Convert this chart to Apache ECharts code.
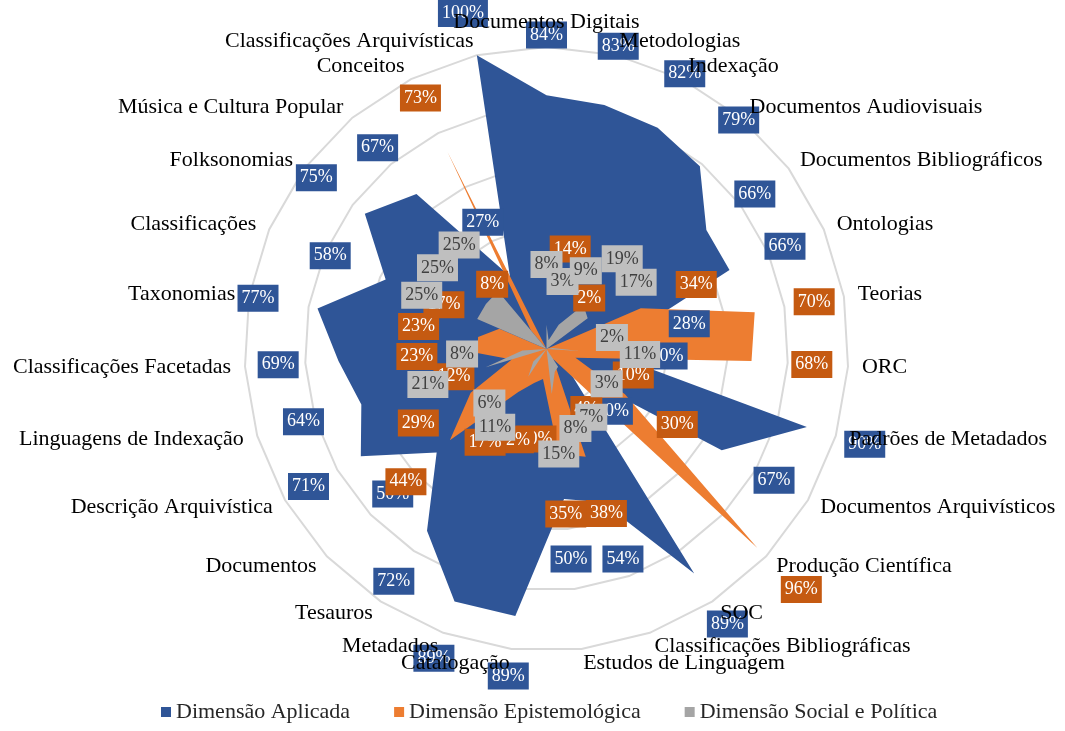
<!DOCTYPE html>
<html>
<head>
<meta charset="utf-8">
<script src="https://cdn.jsdelivr.net/npm/echarts@6/dist/echarts.min.js"></script>
<style>
  html, body { margin: 0; padding: 0; background: #fff; }
  #chart { width: 1065px; height: 731px; }
</style>
</head>
<body>
<div id="chart"></div>
<script>
// categories clockwise from the top, as in the original sheet
const categories = [
  'Documentos Digitais', 'Metodologias', 'Indexação', 'Documentos Audiovisuais',
  'Documentos Bibliográficos', 'Ontologias', 'Teorias', 'ORC', 'Padrões de Metadados',
  'Documentos Arquivísticos', 'Produção Científica', 'SOC', 'Classificações Bibliográficas',
  'Estudos de Linguagem', 'Catalogação', 'Metadados', 'Tesauros', 'Documentos',
  'Descrição Arquivística', 'Linguagens de Indexação', 'Classificações Facetadas',
  'Taxonomias', 'Classificações', 'Folksonomias', 'Música e Cultura Popular',
  'Conceitos', 'Classificações Arquivísticas'
]
const aplicada = [84, 83, 82, 79, 66, 66, 28, 20, 90, 67, 10, 89, 54, 50, 89, 89, 72, 50, 71, 64, 69, 77, 58, 75, 67, 27, 100]
const epistemologica = [0, 14, 0, 2, 0, 34, 70, 68, 10, 30, 96, 4, 38, 35, 10, 12, 17, 44, 29, 12, 23, 23, 17, 0, 8, 73, 0]
const socialPolitica = [8, 3, 9, 19, 17, 0, 2, 11, 0, 3, 0, 7, 8, 15, 0, 0, 11, 6, 0, 21, 8, 0, 25, 25, 25, 0, 0]

const seriesNames = ['Dimensão Aplicada', 'Dimensão Epistemológica', 'Dimensão Social e Política']
const seriesValues = [aplicada, epistemologica, socialPolitica]
const fillColors = ['#2F5597', '#ED7D31', '#A5A5A5']
const boxColors = ['#2F5597', '#C55A11', '#BFBFBF']
const boxText = ['#ffffff', '#ffffff', '#404040']

const FONT = '"Liberation Serif", "DejaVu Serif", serif'
const CENTER = [546.5, 349]
const RADIUS = 302
const LABEL_OFFSET = 20 // labels sit a bit outside their point, in axis units
const POLAR_MAX = 140   // room for the labels beyond 100%

const n = categories.length
// echarts radar goes counter-clockwise, so walk the categories backwards after the first
const order = categories.map((_, i) => (n - i) % n)
const indicator = order.map(i => ({ name: categories[i], max: 100 }))

const chart = echarts.init(document.getElementById('chart'))

const radarSeries = seriesNames.map((name, s) => ({
  type: 'radar',
  name: name,
  radarIndex: 0,
  symbol: 'none',
  lineStyle: { width: 0 },
  itemStyle: { color: fillColors[s] },
  areaStyle: { color: fillColors[s], opacity: 1 },
  data: [{ name: name, value: order.map(i => seriesValues[s][i]) }]
}))

const labelSeries = seriesNames.map((name, s) => ({
  type: 'scatter',
  name: 'rotulos ' + name,
  coordinateSystem: 'polar',
  silent: true,
  symbolSize: 1,
  itemStyle: { color: 'rgba(0,0,0,0)', opacity: 1 },
  data: seriesValues[s]
    .map((v, k) => [v + LABEL_OFFSET, k, v])
    .filter(d => d[2] > 0),
  label: {
    show: true,
    position: 'inside',
    formatter: p => p.value[2] + '%',
    backgroundColor: boxColors[s],
    color: boxText[s],
    fontFamily: FONT,
    fontSize: 18,
    lineHeight: 20,
    padding: [4, 4, 3, 4]
  },
  labelLayout: p => ({ dy: p.labelRect.y < 0 ? -p.labelRect.y : 0 })
}))

chart.setOption({
  animation: false,
  backgroundColor: '#ffffff',
  legend: {
    data: seriesNames,
    bottom: 3,
    left: 156,
    icon: 'rect',
    itemWidth: 10,
    itemHeight: 10,
    itemGap: 44,
    textStyle: { fontFamily: FONT, fontSize: 22, color: '#262626' }
  },
  radar: [
    {
      center: CENTER,
      radius: RADIUS,
      startAngle: 90,
      shape: 'polygon',
      splitNumber: 5,
      indicator: indicator,
      axisName: { show: false },
      axisLine: { show: false },
      splitArea: { show: false },
      splitLine: { lineStyle: { color: '#D9D9D9', width: 2 } },
      z: 0
    },
    {
      // second copy only for the category names, drawn above everything
      center: CENTER,
      radius: RADIUS,
      startAngle: 90,
      shape: 'polygon',
      splitNumber: 5,
      indicator: indicator,
      nameGap: 14,
      axisName: { color: '#000', fontFamily: FONT, fontSize: 22 },
      axisLine: { show: false },
      splitArea: { show: false },
      splitLine: { show: false },
      z: 10
    }
  ],
  polar: { center: CENTER, radius: RADIUS * POLAR_MAX / 100 },
  angleAxis: {
    type: 'value', min: 0, max: n, startAngle: 90, clockwise: true,
    axisLine: { show: false }, axisTick: { show: false },
    axisLabel: { show: false }, splitLine: { show: false }
  },
  radiusAxis: {
    type: 'value', min: 0, max: POLAR_MAX,
    axisLine: { show: false }, axisTick: { show: false },
    axisLabel: { show: false }, splitLine: { show: false }
  },
  series: radarSeries.concat(labelSeries)
})
</script>
</body>
</html>
